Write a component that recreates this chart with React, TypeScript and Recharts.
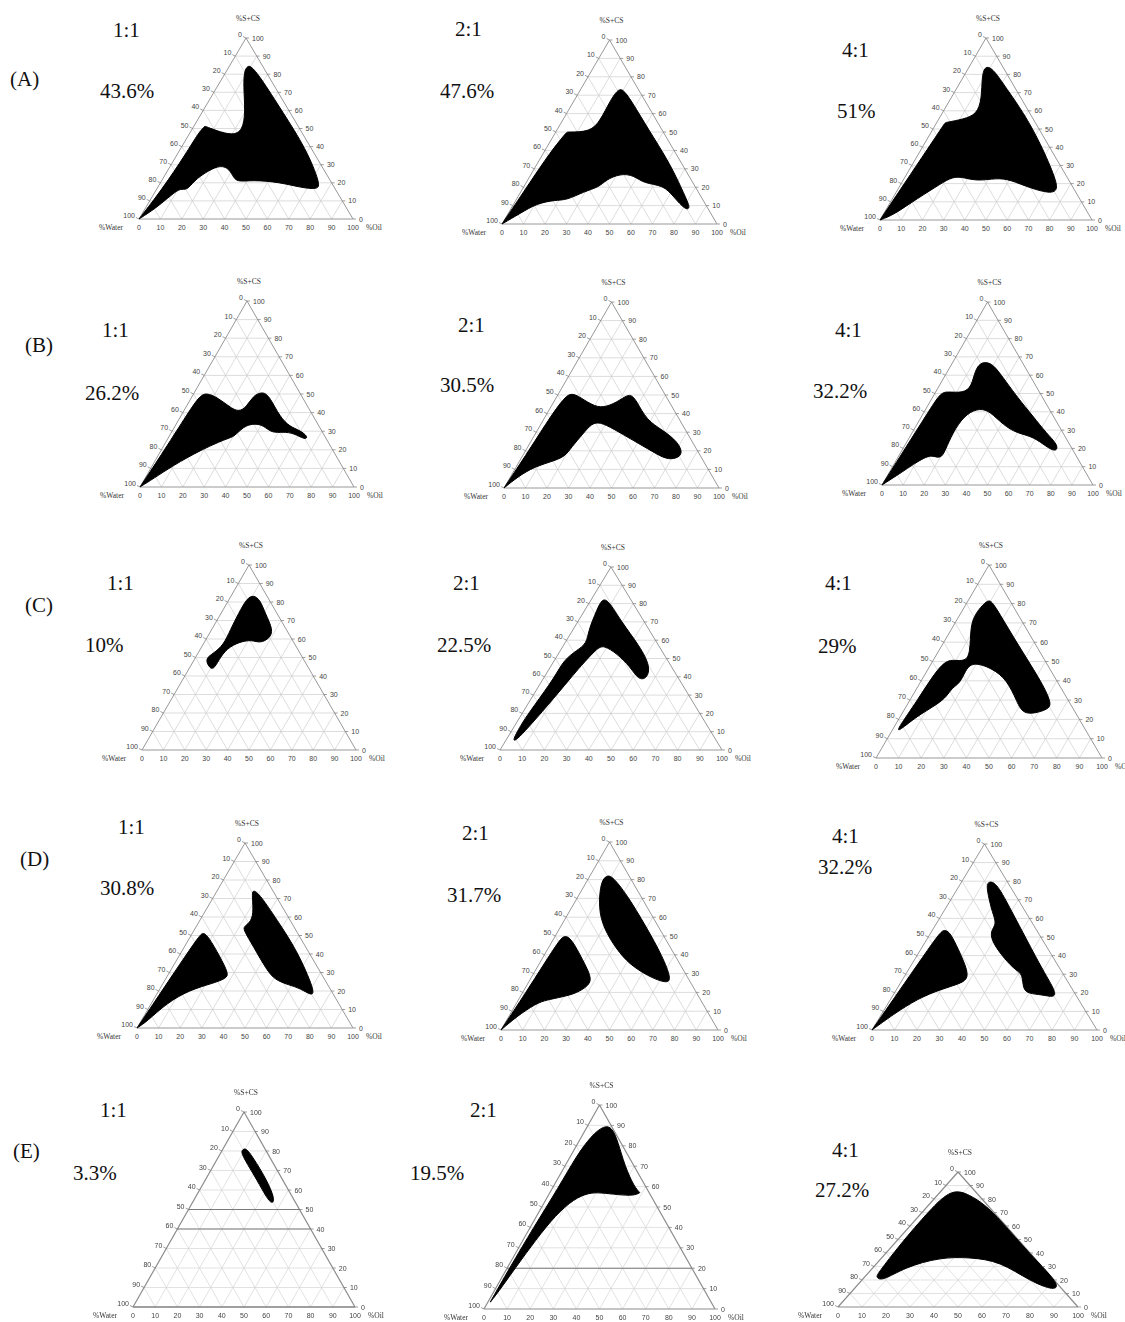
import React from 'react';
import { ScatterChart, Scatter, XAxis, YAxis } from 'recharts';

// each vertex pair is [%Oil, %S+CS]; %Water is what is left
type Pt = [number, number];

const ratios = ['1:1', '2:1', '4:1'];
const rowTags = ['(A)', '(B)', '(C)', '(D)', '(E)'];
const areaLabels = [
  ['43.6%', '47.6%', '51%'],
  ['26.2%', '30.5%', '32.2%'],
  ['10%', '22.5%', '29%'],
  ['30.8%', '31.7%', '32.2%'],
  ['3.3%', '19.5%', '27.2%'],
];
const tickValues = [0, 10, 20, 30, 40, 50, 60, 70, 80, 90, 100];
const gridValues = [10, 20, 30, 40, 50, 60, 70, 80, 90];

const regionA1: Pt[] = [[0, 0], [0, 0], [0, 0], [2.6, 16.6], [3.9, 36], [4, 48], [5.1, 51.3], [5.1, 51.3], [11.5, 48.9], [20.7, 46.1], [24, 48.9], [20.2, 59], [11.9, 73.8], [8.2, 82.1], [8.6, 84.5], [10, 84.5], [16.6, 79.3], [37.7, 59], [58.8, 38.7], [75, 19.4], [75.5, 16.2], [66.3, 17.5], [55.5, 20.3], [42.3, 21.6], [35.5, 20.3], [31.8, 24], [27.1, 28.6], [22.3, 29.5], [18.3, 25.8], [15.2, 21.2], [14.5, 15.7], [11, 17], [8.7, 13.8], [4.9, 5.9]];
const regionA2: Pt[] = [[0, 0], [0, 0], [0, 0], [1.5, 20], [3, 40], [5.2, 50], [5.2, 50], [16.1, 50], [17.6, 56.3], [16.8, 67.1], [17.3, 74], [21.1, 72.6], [41, 52.7], [61.8, 32.9], [79.5, 13], [83.3, 8.5], [81.5, 7.6], [72.4, 14.8], [64.6, 21.1], [54.9, 22], [48, 26.5], [41.3, 27.4], [36.2, 23.8], [35.3, 20.2], [29.2, 17.5], [23.7, 13], [18.3, 13], [10.7, 11.2], [5.6, 5.8]];
const regionA3: Pt[] = [[0, 0], [0, 0], [0, 0], [1.5, 20], [3, 40], [4, 53.5], [4, 53.5], [11.7, 55.4], [16.6, 58.1], [14.8, 66.4], [8.4, 79.3], [7.2, 84.9], [12, 83], [23.8, 72], [38.2, 59], [54.4, 42.4], [72.9, 21.2], [75.6, 15.7], [72.1, 14.8], [62.1, 17.5], [50.4, 22.1], [43.6, 23.1], [35.1, 21.2], [25.8, 24], [21.5, 23.1], [17.5, 18.5], [9.6, 9.2], [4.9, 2.8]];

const regionB1: Pt[] = [[0, 0], [0, 0], [0, 0], [1.5, 20], [2.5, 40], [3.4, 49.3], [5.9, 50.5], [11.6, 48.4], [20.5, 43], [25.8, 40.3], [28.3, 43], [28.3, 49.3], [31.9, 51.4], [36.5, 48.4], [46.6, 37.6], [54, 32.3], [59.5, 30.5], [65.2, 26.9], [64.4, 25.4], [57.2, 29], [52.2, 29.6], [47, 29], [41, 33.2], [36.7, 34], [33.2, 33.2], [31.5, 30.5], [30.2, 26.9], [27.5, 26], [18.2, 19.7], [9.8, 11.6], [4, 4.5]];
const regionB2: Pt[] = [[0, 0], [0, 0], [0, 0], [1.5, 20], [2.5, 40], [3.9, 48.9], [5.9, 51.1], [10.9, 48.9], [20.6, 43.5], [25.9, 43.5], [30.4, 47.1], [33, 51.1], [38.1, 47.1], [48.1, 36.4], [58.5, 31], [68.6, 24.7], [74, 18.5], [72.3, 15.8], [67.8, 15.4], [59.6, 19.4], [47.3, 25.6], [34.8, 31.9], [26.8, 35.5], [23.4, 34.6], [22.2, 29.2], [20.4, 22], [20, 16.7], [14.4, 14], [6.9, 10.4], [2.3, 4.1]];
const regionB3: Pt[] = [[0, 0], [0, 0], [0, 0], [1, 20], [2, 40], [2.5, 50.2], [5.2, 51.1], [13.5, 50.2], [15.6, 53.8], [12.6, 63], [13.5, 67.5], [18.7, 66.6], [25.4, 61.1], [39.6, 48.4], [53, 37.4], [63.8, 28.3], [72.5, 21.9], [73.6, 18.2], [68.7, 20.1], [58.5, 26.5], [49.7, 28.3], [41.1, 32.8], [31.2, 40.1], [25.5, 42], [20.6, 39.2], [19.1, 31], [20.2, 21], [21, 14.6], [17.5, 15.5], [13.1, 16.4], [5.5, 6.4]];

const regionC1: Pt[] = [[10.2, 83.8], [14.7, 81.1], [20.6, 73.9], [28.9, 64.9], [29.5, 60.4], [26.4, 57.7], [21.6, 59.5], [16.6, 58.6], [12.2, 55], [11.5, 48.6], [11.8, 43.2], [8.6, 45], [4.8, 49.5], [7.3, 52.3], [9.7, 56.8], [8.8, 64.9], [8.2, 73.9], [8, 82]];
const regionC2: Pt[] = [[3, 4.5], [2.5, 15], [3.2, 23.6], [4.8, 40], [4.1, 49.1], [7.4, 54.5], [10, 58.2], [7.1, 65.5], [5.4, 76.4], [4.6, 82.7], [8, 81.8], [18.7, 70.9], [35, 56.4], [45, 45.5], [46.7, 39.1], [43.3, 38.2], [35.9, 45.5], [26.3, 52.7], [18, 57.3], [15.9, 55.5], [13.4, 45.5], [12.3, 40], [9.2, 23.6], [6.5, 12], [4.8, 5.5]];
const regionC3: Pt[] = [[1.9, 14.7], [3.4, 29.3], [4.1, 50], [8.9, 50.9], [14.4, 50], [14.6, 54.3], [7.7, 68.1], [6.4, 75], [8.4, 82.8], [11.9, 80.2], [32.6, 59.5], [52.5, 40.5], [63.6, 28.4], [63.9, 25], [54.5, 21.6], [47.7, 29.3], [37.7, 40.5], [28, 46.6], [17.4, 50], [17, 44.8], [17.8, 38.8], [15.4, 36.2], [15.4, 31.9], [13.1, 27.6], [7.2, 21.6], [3.1, 13.8]];

const regionD1a: Pt[] = [[0, 0], [0, 0], [0, 0], [1.5, 20], [3, 40], [4, 50.4], [4.9, 51.6], [8.3, 49.5], [19.1, 38.6], [27.5, 29.6], [28.1, 26.9], [23.2, 24.2], [14.2, 20.6], [7, 13.4], [2.8, 3.4]];
const regionD1b: Pt[] = [[16.6, 74.7], [21, 72], [35.5, 58.5], [52.9, 42.2], [72.6, 19.7], [72.3, 17.3], [64.8, 21.5], [58.5, 23.3], [50.9, 26], [44.3, 31.4], [31.9, 44], [22.7, 53.1], [22.1, 54.9], [24.2, 57.6], [22, 63.9], [16.7, 72.9]];
const regionD2a: Pt[] = [[0, 0], [0, 0], [0, 0], [1.5, 20], [2.5, 40], [3.1, 47.8], [4.1, 50.4], [8.1, 48.7], [19.1, 37.2], [27.5, 28.3], [28.9, 23.9], [25, 19.5], [19.7, 17.7], [13, 15.9], [9.2, 14.2], [3.6, 7.1]];
const regionD2b: Pt[] = [[8.1, 82.3], [10.8, 81.4], [21.4, 72.6], [39.5, 54.9], [55.1, 38.9], [64.7, 27.4], [64.4, 24.8], [56.2, 27.4], [43.9, 33.6], [34.3, 40.7], [22.9, 51.3], [14.2, 61.9], [8.3, 74.3], [6.7, 80.5]];
const regionD3a: Pt[] = [[0, 0], [0, 0], [0, 0], [1.5, 20], [3, 40], [4, 53], [5.5, 54], [9, 52], [17, 43], [24, 35], [29, 28], [27, 25], [20, 22], [12, 17], [5, 8]];
const regionD3b: Pt[] = [[12, 80], [16, 79], [30, 64], [45, 48], [60, 32], [72, 20], [72, 17.5], [66, 19], [60, 19.5], [56, 22], [52, 30], [48, 32], [40, 38], [30, 47], [26, 53], [27, 57], [22, 63], [15, 73], [12, 78]];

const regionE1: Pt[] = [[8.8, 80.4], [9.9, 81.8], [15.4, 77], [27.8, 65.1], [36.6, 54.9], [36.1, 52.9], [32.4, 55.8], [23.3, 65.1], [14.5, 73.6], [9.6, 78.7]];
const regionE2: Pt[] = [[1, 3], [1, 3], [1, 20], [1.5, 40], [2.5, 60], [2.5, 75], [4, 85], [7, 90], [11, 89], [17, 82], [26, 70], [35, 60], [39, 57], [39, 57], [37, 55.5], [30, 56], [22, 57], [17, 57], [12, 54], [8, 46], [5.5, 34], [3.5, 20], [2, 8]];
const regionE3: Pt[] = [[4.2, 25], [2.7, 46], [2.3, 72], [3.5, 88], [13.5, 83], [23.4, 75.7], [35.2, 64.7], [60.5, 39], [84, 16.9], [84.5, 11.8], [70.5, 19.1], [50.6, 33.8], [36.6, 36.8], [24.1, 36.8], [13.2, 29.4], [8.8, 19.1], [4.8, 22]];

const panelRegions: Pt[][][] = [
  [regionA1], [regionA2], [regionA3],
  [regionB1], [regionB2], [regionB3],
  [regionC1], [regionC2], [regionC3],
  [regionD1a, regionD1b], [regionD2a, regionD2b], [regionD3a, regionD3b],
  [regionE1], [regionE2], [regionE3],
];
// darker guide lines (levels of %S+CS) seen in the scanned row E
const panelDarkLevels: number[][] = [[], [], [], [], [], [], [], [], [], [], [], [], [0, 40, 50], [20], []];

// layout: triangle [left corner x, base y, width, height]
const panelBoxes = [
  [139, 219, 214, 181], [502, 224, 215, 184], [880, 220, 212, 182],
  [140, 487, 214, 186], [504, 488, 215, 186], [882, 485, 211, 183],
  [142, 750, 214, 185], [500, 750, 222, 183], [876, 758, 226, 193],
  [137, 1028, 216, 185], [501, 1030, 217, 188], [872, 1030, 225, 186],
  [133, 1307, 222, 195], [484, 1309, 231, 204], [838, 1307, 240, 135],
];
const ratioPos = [[113, 37], [455, 36], [842, 57], [102, 337], [458, 332], [835, 337], [107, 590], [453, 590], [825, 590], [118, 834], [462, 840], [832, 843], [100, 1117], [470, 1117], [832, 1157]];
const pctPos = [[100, 98], [440, 98], [837, 118], [85, 400], [440, 392], [813, 398], [85, 652], [437, 652], [818, 653], [100, 895], [447, 902], [818, 874], [73, 1180], [410, 1180], [815, 1197]];
const tagPos = [[10, 86], [25, 352], [25, 612], [20, 866], [13, 1158]];

const SQ = Math.sqrt(3) / 2;
const TOP = 100 * SQ;
const toXY = ([oil, s]: Pt) => ({ x: oil + s / 2, y: s * SQ });

const Hidden = () => <g />;

const segments = (stroke: string, width: number) => (props: any) => {
  const p = props.points || [];
  let d = '';
  for (let i = 0; i + 1 < p.length; i += 2) d += `M${p[i].x},${p[i].y}L${p[i + 1].x},${p[i + 1].y}`;
  return <path d={d} fill="none" stroke={stroke} strokeWidth={width} />;
};

const gridPts: { x: number; y: number }[] = [];
gridValues.forEach((v) => {
  gridPts.push(toXY([0, v]), toXY([100 - v, v])); // constant %S+CS
  gridPts.push(toXY([v, 0]), toXY([v, 100 - v])); // constant %Oil
  gridPts.push(toXY([100 - v, 0]), toXY([0, 100 - v])); // constant %Water
});
const edgePts = [toXY([0, 0]), toXY([100, 0]), toXY([100, 0]), toXY([0, 100]), toXY([0, 100]), toXY([0, 0])];

const bottomLabels = tickValues.map((v) => ({ ...toXY([v, 0]), label: String(v) }));
const leftLabels = tickValues.map((v) => ({ ...toXY([0, 100 - v]), label: String(v) }));
const rightLabels = tickValues.map((v) => ({ ...toXY([100 - v, v]), label: String(v) }));
const titles = [
  { ...toXY([0, 100]), label: '%S+CS', pos: 'top' },
  { ...toXY([0, 0]), label: '%Water', pos: 'left' },
  { ...toXY([100, 0]), label: '%Oil', pos: 'right' },
];

const tickFont = { fontFamily: 'Liberation Sans, Arial, sans-serif', fontSize: 7, fill: '#444' };
const titleFont = { fontFamily: 'Liberation Serif, serif', fontSize: 7.5, fill: '#333' };

const BottomLabel = (p: any) => (
  <text x={p.cx} y={p.cy + 10.5} textAnchor="middle" {...tickFont}>{p.payload.label}</text>
);
const LeftLabel = (p: any) => (
  <g>
    <line x1={p.cx} y1={p.cy} x2={p.cx - 3} y2={p.cy - 1.5} stroke="#777" strokeWidth={0.7} />
    <text x={p.cx - 4} y={p.cy - 1} textAnchor="end" {...tickFont}>{p.payload.label}</text>
  </g>
);
const RightLabel = (p: any) => (
  <g>
    <line x1={p.cx} y1={p.cy} x2={p.cx + 3} y2={p.cy} stroke="#777" strokeWidth={0.7} />
    <text x={p.cx + 6} y={p.cy + 2.5} textAnchor="start" {...tickFont}>{p.payload.label}</text>
  </g>
);
const TitleLabel = (p: any) => {
  const pos = p.payload.pos;
  if (pos === 'top') return <text x={p.cx + 2} y={p.cy - 17} textAnchor="middle" {...titleFont}>{p.payload.label}</text>;
  if (pos === 'left') return <text x={p.cx - 16} y={p.cy + 10.5} textAnchor="end" {...titleFont}>{p.payload.label}</text>;
  return <text x={p.cx + 13} y={p.cy + 10.5} textAnchor="start" {...titleFont}>{p.payload.label}</text>;
};

function Ternary({ idx }: { idx: number }) {
  const [x0, yb, w, h] = panelBoxes[idx];
  const m = { top: 30, right: 45, bottom: 20, left: 45 };
  const scanned = idx >= 12;
  const darkPts: { x: number; y: number }[] = [];
  panelDarkLevels[idx].forEach((v) => darkPts.push(toXY([0, v]), toXY([100 - v, v])));
  return (
    <div style={{ position: 'absolute', left: x0 - m.left, top: yb - h - m.top, filter: scanned ? 'blur(0.6px)' : undefined }}>
      <ScatterChart width={w + m.left + m.right} height={h + m.top + m.bottom} margin={m}>
        <XAxis type="number" dataKey="x" domain={[0, 100]} hide />
        <YAxis type="number" dataKey="y" domain={[0, TOP]} hide />
        <Scatter data={gridPts} shape={Hidden} line={segments(scanned ? '#d6d6d6' : '#cfcfcf', 0.7)} lineType="joint" isAnimationActive={false} />
        <Scatter data={edgePts} shape={Hidden} line={segments('#8c8c8c', scanned ? 1.2 : 0.9)} lineType="joint" isAnimationActive={false} />
        {darkPts.length > 0 && (
          <Scatter data={darkPts} shape={Hidden} line={segments('#7a7a7a', 1.1)} lineType="joint" isAnimationActive={false} />
        )}
        {panelRegions[idx].map((r, i) => (
          <Scatter
            key={i}
            data={r.map(toXY)}
            fill="#000"
            shape={Hidden}
            line={{ fill: '#000', stroke: '#000', strokeWidth: 1 }}
            lineType="joint"
            lineJointType="basisClosed"
            isAnimationActive={false}
          />
        ))}
        <Scatter data={bottomLabels} shape={BottomLabel} isAnimationActive={false} />
        <Scatter data={leftLabels} shape={LeftLabel} isAnimationActive={false} />
        <Scatter data={rightLabels} shape={RightLabel} isAnimationActive={false} />
        <Scatter data={titles} shape={TitleLabel} isAnimationActive={false} />
      </ScatterChart>
    </div>
  );
}

const bigFont = { fontFamily: "'Palatino Linotype', 'Book Antiqua', Palatino, 'Liberation Serif', serif", fontSize: 21, fill: '#111' };

export default function App() {
  return (
    <div style={{ position: 'relative', width: 1125, height: 1322, background: '#fff', overflow: 'hidden' }}>
      <style>{'body{margin:0}'}</style>
      {panelBoxes.map((_, i) => (
        <Ternary key={i} idx={i} />
      ))}
      <svg width={1125} height={1322} style={{ position: 'absolute', left: 0, top: 0, pointerEvents: 'none' }}>
        {rowTags.map((t, r) => (
          <text key={t} x={tagPos[r][0]} y={tagPos[r][1]} {...bigFont}>{t}</text>
        ))}
        {areaLabels.map((row, r) =>
          row.map((pct, c) => {
            const i = r * 3 + c;
            return (
              <g key={i}>
                <text x={ratioPos[i][0]} y={ratioPos[i][1]} {...bigFont}>{ratios[c]}</text>
                <text x={pctPos[i][0]} y={pctPos[i][1]} {...bigFont}>{pct}</text>
              </g>
            );
          })
        )}
      </svg>
    </div>
  );
}
